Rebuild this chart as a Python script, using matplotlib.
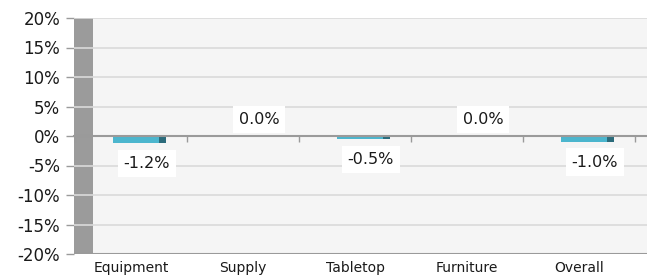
import matplotlib
matplotlib.use("Agg")
import matplotlib.pyplot as plt
from matplotlib.ticker import FuncFormatter
import numpy as np

categories = ["Equipment", "Supply", "Tabletop", "Furniture", "Overall"]
values = [-1.2, 0.0, -0.5, 0.0, -1.0]
yticks = [-20, -15, -10, -5, 0, 5, 10, 15, 20]

front_col = "#4cb6ce"
side_col = "#2b6b7b"
grid_col = "#dadada"
axis_col = "#9a9a9a"

fig = plt.figure(figsize=(6.47, 2.78), dpi=100)
ax = fig.add_axes([74 / 647, 24 / 278, 573 / 647, 236 / 278])
ax.set_facecolor("#f5f5f5")

x = np.arange(len(categories))
ax.set_xlim(-0.589, 4.527)
ax.set_ylim(-20, 20)

# grey side wall on the left
ax.axvspan(-0.589, -0.42, color="#9b9b9b", zorder=1, lw=0)

# gridlines
for t in yticks:
    ax.axhline(t, color=grid_col, lw=1.2, zorder=2)
ax.axhline(-20, color=axis_col, lw=1.5, zorder=3)

# bars: front face + darker side face
ax.bar(x - 0.241, values, width=0.41, align="edge", color=front_col, zorder=4)
ax.bar(x + 0.169, values, width=0.064, align="edge", color=side_col, zorder=4)

# value labels
for xi, v in zip(x, values):
    dy = 12 if v >= 0 else -14.5
    ax.annotate(f"{v:.1f}%", (xi, v), xytext=(5, dy), textcoords="offset points",
                ha="center", va="center", fontsize=11.5, color="#1a1a1a", zorder=6,
                bbox=dict(boxstyle="square,pad=0.38", fc="white", ec="none"))

# x axis line at zero with small tick marks
for s in ["top", "right", "left"]:
    ax.spines[s].set_visible(False)
ax.spines["bottom"].set_position(("data", 0))
ax.spines["bottom"].set_color(axis_col)
ax.spines["bottom"].set_linewidth(1.5)
ax.spines["bottom"].set_zorder(5)
ax.set_xticks(np.arange(-1, 5) + 0.42)
ax.tick_params(axis="x", direction="out", length=4, width=1, color=axis_col,
               labelbottom=False)

# category labels under the plot
for xi, name in zip(x, categories):
    ax.text(xi - 0.08, -0.06, name, transform=ax.get_xaxis_transform(),
            ha="center", va="center", fontsize=10, color="#1a1a1a")

ax.set_yticks(yticks)
ax.yaxis.set_major_formatter(FuncFormatter(lambda v, p: f"{v:.0f}%"))
ax.tick_params(axis="y", length=6, width=1, color=axis_col, labelsize=12,
               labelcolor="#1a1a1a", pad=4)

fig.savefig("out.png", dpi=100, facecolor="white")
